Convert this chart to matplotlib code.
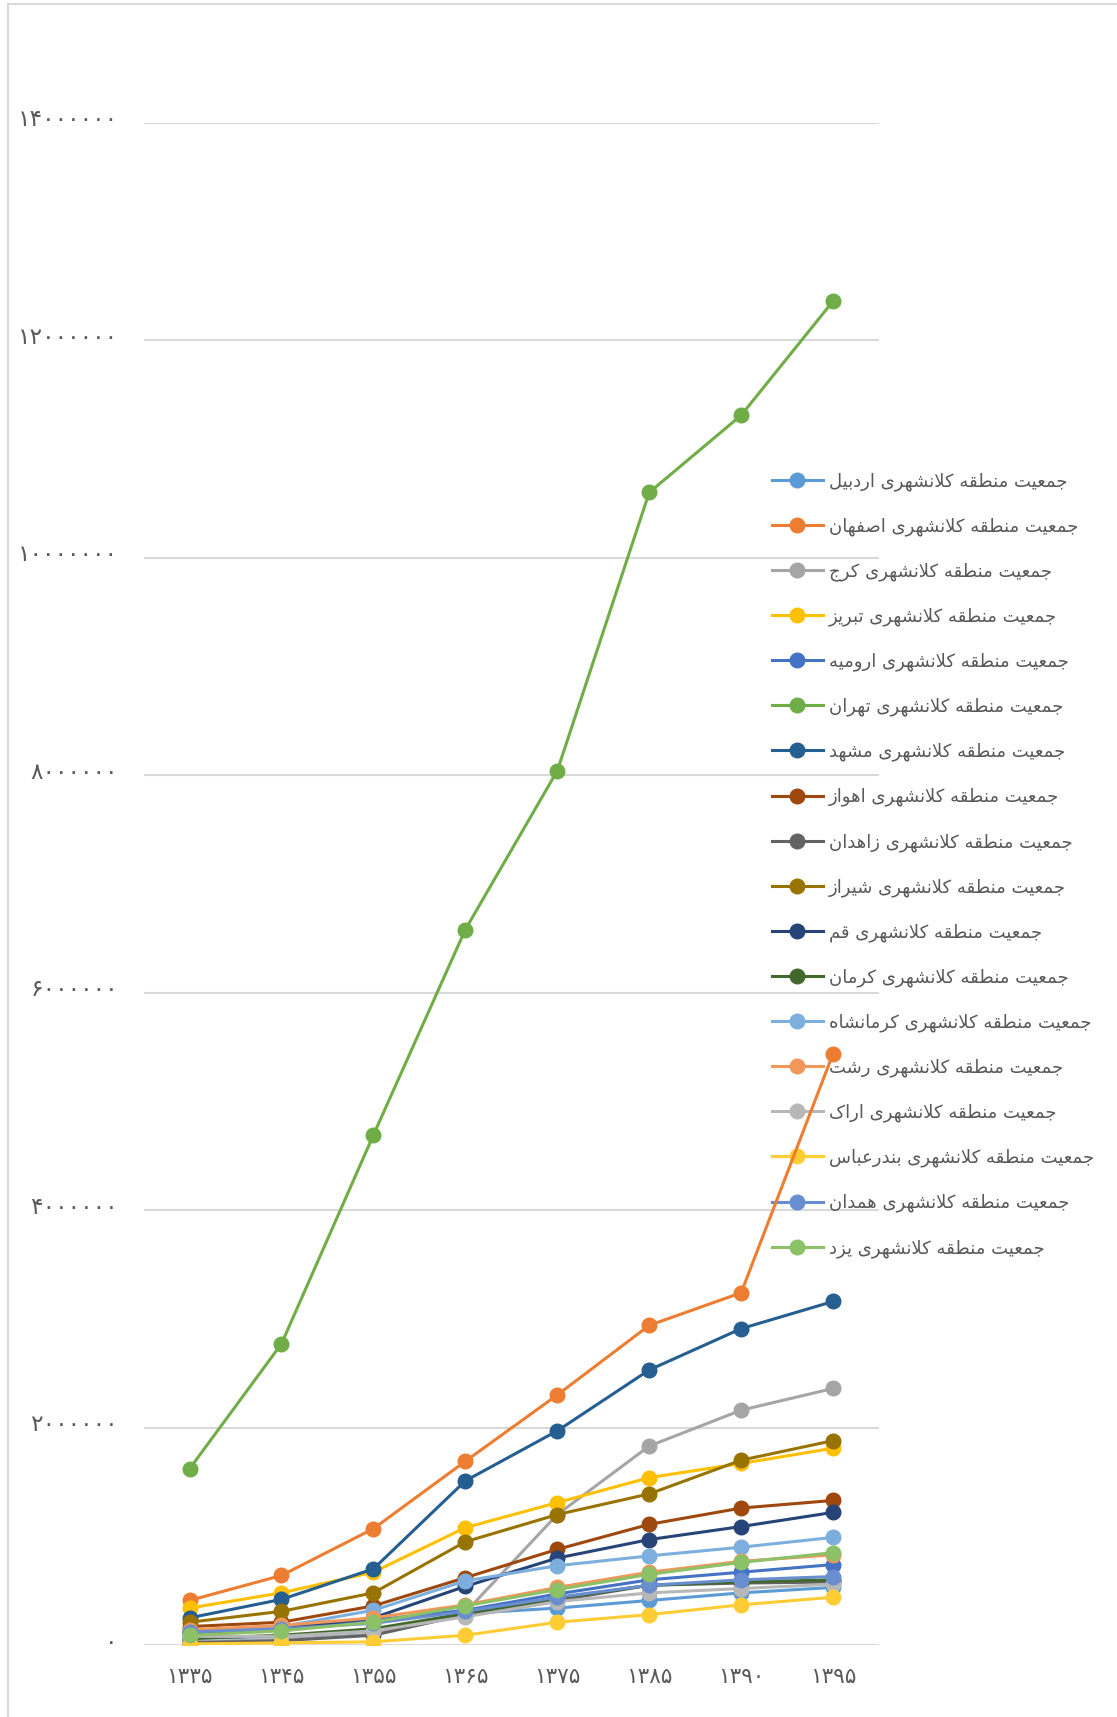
import matplotlib
matplotlib.use("Agg")
import matplotlib.pyplot as plt
from matplotlib.lines import Line2D
from matplotlib.transforms import ScaledTranslation

# census years (solar hijri)
years = [1335, 1345, 1355, 1365, 1375, 1385, 1390, 1395]

# metropolitan-area population per census
ardabil = [60000, 80000, 130000, 290000, 340000, 410000, 480000, 530000]
isfahan = [410000, 640000, 1070000, 1690000, 2300000, 2940000, 3240000, 5440000]
karaj = [30000, 50000, 100000, 300000, 1200000, 1830000, 2160000, 2360000]
tabriz = [340000, 480000, 670000, 1080000, 1310000, 1540000, 1670000, 1810000]
urmia = [130000, 160000, 230000, 320000, 470000, 600000, 670000, 740000]
tehran = [1620000, 2770000, 4690000, 6580000, 8040000, 10600000, 11310000, 12360000]
mashhad = [250000, 420000, 700000, 1510000, 1970000, 2530000, 2910000, 3160000]
ahvaz = [170000, 210000, 360000, 620000, 880000, 1110000, 1260000, 1330000]
zahedan = [20000, 40000, 90000, 280000, 410000, 550000, 570000, 580000]
shiraz = [210000, 310000, 480000, 950000, 1200000, 1390000, 1700000, 1880000]
qom = [110000, 150000, 250000, 540000, 800000, 970000, 1090000, 1220000]
kerman = [60000, 90000, 150000, 290000, 430000, 550000, 580000, 600000]
kermanshah = [130000, 170000, 320000, 590000, 730000, 820000, 900000, 990000]
rasht = [140000, 180000, 250000, 370000, 530000, 670000, 770000, 830000]
arak = [80000, 80000, 130000, 260000, 400000, 480000, 520000, 560000]
bandarabbas = [10000, 20000, 30000, 90000, 210000, 280000, 370000, 440000]
hamadan = [120000, 150000, 200000, 310000, 440000, 550000, 600000, 630000]
yazd = [90000, 130000, 210000, 360000, 510000, 650000, 760000, 850000]

city_names = ["اردبیل", "اصفهان", "کرج", "تبریز", "ارومیه", "تهران", "مشهد", "اهواز",
              "زاهدان", "شیراز", "قم", "کرمان", "کرمانشاه", "رشت", "اراک", "بندرعباس",
              "همدان", "یزد"]
series = [ardabil, isfahan, karaj, tabriz, urmia, tehran, mashhad, ahvaz, zahedan,
          shiraz, qom, kerman, kermanshah, rasht, arak, bandarabbas, hamadan, yazd]
colors = ["#5B9BD5", "#ED7D31", "#A5A5A5", "#FFC000", "#4472C4", "#70AD47", "#255E91",
          "#9E480E", "#636363", "#997300", "#264478", "#43682B", "#7CAFDD", "#F1975A",
          "#B7B7B7", "#FFCD33", "#698ED0", "#8CC168"]

label_prefix = "جمعیت منطقه کلانشهری"
y_ticks = [0, 2000000, 4000000, 6000000, 8000000, 10000000, 12000000, 14000000]

# presentation forms: (isolated, final, initial, medial); right-joining letters have two
FORMS = {
    "ا": (0xFE8D, 0xFE8E), "ب": (0xFE8F, 0xFE90, 0xFE91, 0xFE92),
    "ت": (0xFE95, 0xFE96, 0xFE97, 0xFE98), "ج": (0xFE9D, 0xFE9E, 0xFE9F, 0xFEA0),
    "د": (0xFEA9, 0xFEAA), "ر": (0xFEAD, 0xFEAE), "ز": (0xFEAF, 0xFEB0),
    "ش": (0xFEB5, 0xFEB6, 0xFEB7, 0xFEB8), "ص": (0xFEB9, 0xFEBA, 0xFEBB, 0xFEBC),
    "ط": (0xFEC1, 0xFEC2, 0xFEC3, 0xFEC4), "ع": (0xFEC9, 0xFECA, 0xFECB, 0xFECC),
    "ف": (0xFED1, 0xFED2, 0xFED3, 0xFED4), "ق": (0xFED5, 0xFED6, 0xFED7, 0xFED8),
    "ل": (0xFEDD, 0xFEDE, 0xFEDF, 0xFEE0), "م": (0xFEE1, 0xFEE2, 0xFEE3, 0xFEE4),
    "ن": (0xFEE5, 0xFEE6, 0xFEE7, 0xFEE8), "ه": (0xFEE9, 0xFEEA, 0xFEEB, 0xFEEC),
    "و": (0xFEED, 0xFEEE), "ک": (0xFB8E, 0xFB8F, 0xFB90, 0xFB91),
    "ی": (0xFBFC, 0xFBFD, 0xFBFE, 0xFBFF),
}
LAM_ALEF = (0xFEFB, 0xFEFC)


def joins_forward(ch):
    return ch in FORMS and len(FORMS[ch]) == 4


def shape_word(word):
    out = []
    i = 0
    n = len(word)
    while i < n:
        ch = word[i]
        prev = word[i - 1] if i > 0 else ""
        linked_prev = joins_forward(prev)
        if ch == "ل" and i + 1 < n and word[i + 1] == "ا":
            out.append(chr(LAM_ALEF[1] if linked_prev else LAM_ALEF[0]))
            i += 2
            continue
        forms = FORMS.get(ch)
        if forms is None:
            out.append(ch)
            i += 1
            continue
        nxt = word[i + 1] if i + 1 < n else ""
        linked_next = joins_forward(ch) and nxt in FORMS
        if linked_prev and linked_next:
            out.append(chr(forms[3]))
        elif linked_prev:
            out.append(chr(forms[1]))
        elif linked_next:
            out.append(chr(forms[2]))
        else:
            out.append(chr(forms[0]))
        i += 1
    return "".join(out)


def rtl(text):
    shaped = " ".join(shape_word(w) for w in text.split(" "))
    return shaped[::-1]


def fa_digits(value):
    return str(value).translate(str.maketrans("0123456789", "۰۱۲۳۴۵۶۷۸۹"))


plt.rcParams["font.family"] = ["DejaVu Sans"]
text_color = "#595959"
grid_color = "#D9D9D9"

fig = plt.figure(figsize=(11.17, 17.17), dpi=100)
ax = fig.add_axes([0.1285, 0.0419, 0.6585, 0.8866])

x = list(range(len(years)))
for name, values, color in zip(city_names, series, colors):
    ax.plot(x, values, color=color, lw=2.2, marker="o", ms=10.5,
            label=rtl(label_prefix + " " + name), zorder=3)

ax.set_xlim(-0.5, len(years) - 0.5)
ax.set_ylim(0, 14000000)
ax.set_xticks(x)
ax.set_xticklabels([fa_digits(y) for y in years])
ax.set_yticks(y_ticks)
ax.set_yticklabels([fa_digits(v) for v in y_ticks])
ax.tick_params(axis="x", length=0, colors=text_color, labelsize=15.5, pad=16)
ax.tick_params(axis="y", length=0, colors=text_color, labelsize=16.8, pad=18.5)
# y labels sit a little above their gridlines
lift = ScaledTranslation(0, 4 / 72, fig.dpi_scale_trans)
for lbl in ax.get_yticklabels():
    lbl.set_transform(lbl.get_transform() + lift)
ax.grid(axis="y", color=grid_color, lw=1.5, zorder=0)
ax.set_axisbelow(True)
for spine in ax.spines.values():
    spine.set_visible(False)

leg = ax.legend(loc="upper left", bbox_to_anchor=(772 / 1117, 1 - 472 / 1717),
                bbox_transform=fig.transFigure, frameon=False, fontsize=13,
                handlelength=2.8, handletextpad=0.35, labelspacing=1.47,
                borderpad=0, borderaxespad=0)
leg.set_zorder(1)
for t in leg.get_texts():
    t.set_color(text_color)

# chart area border (top and left edges)
fig.add_artist(Line2D([7.5 / 1117, 7.5 / 1117], [0, 1 - 4 / 1717], transform=fig.transFigure,
                      color=grid_color, lw=1.5))
fig.add_artist(Line2D([7.5 / 1117, 1], [1 - 4 / 1717, 1 - 4 / 1717], transform=fig.transFigure,
                      color=grid_color, lw=1.5))

fig.savefig("out.png", dpi=100, facecolor="white")
